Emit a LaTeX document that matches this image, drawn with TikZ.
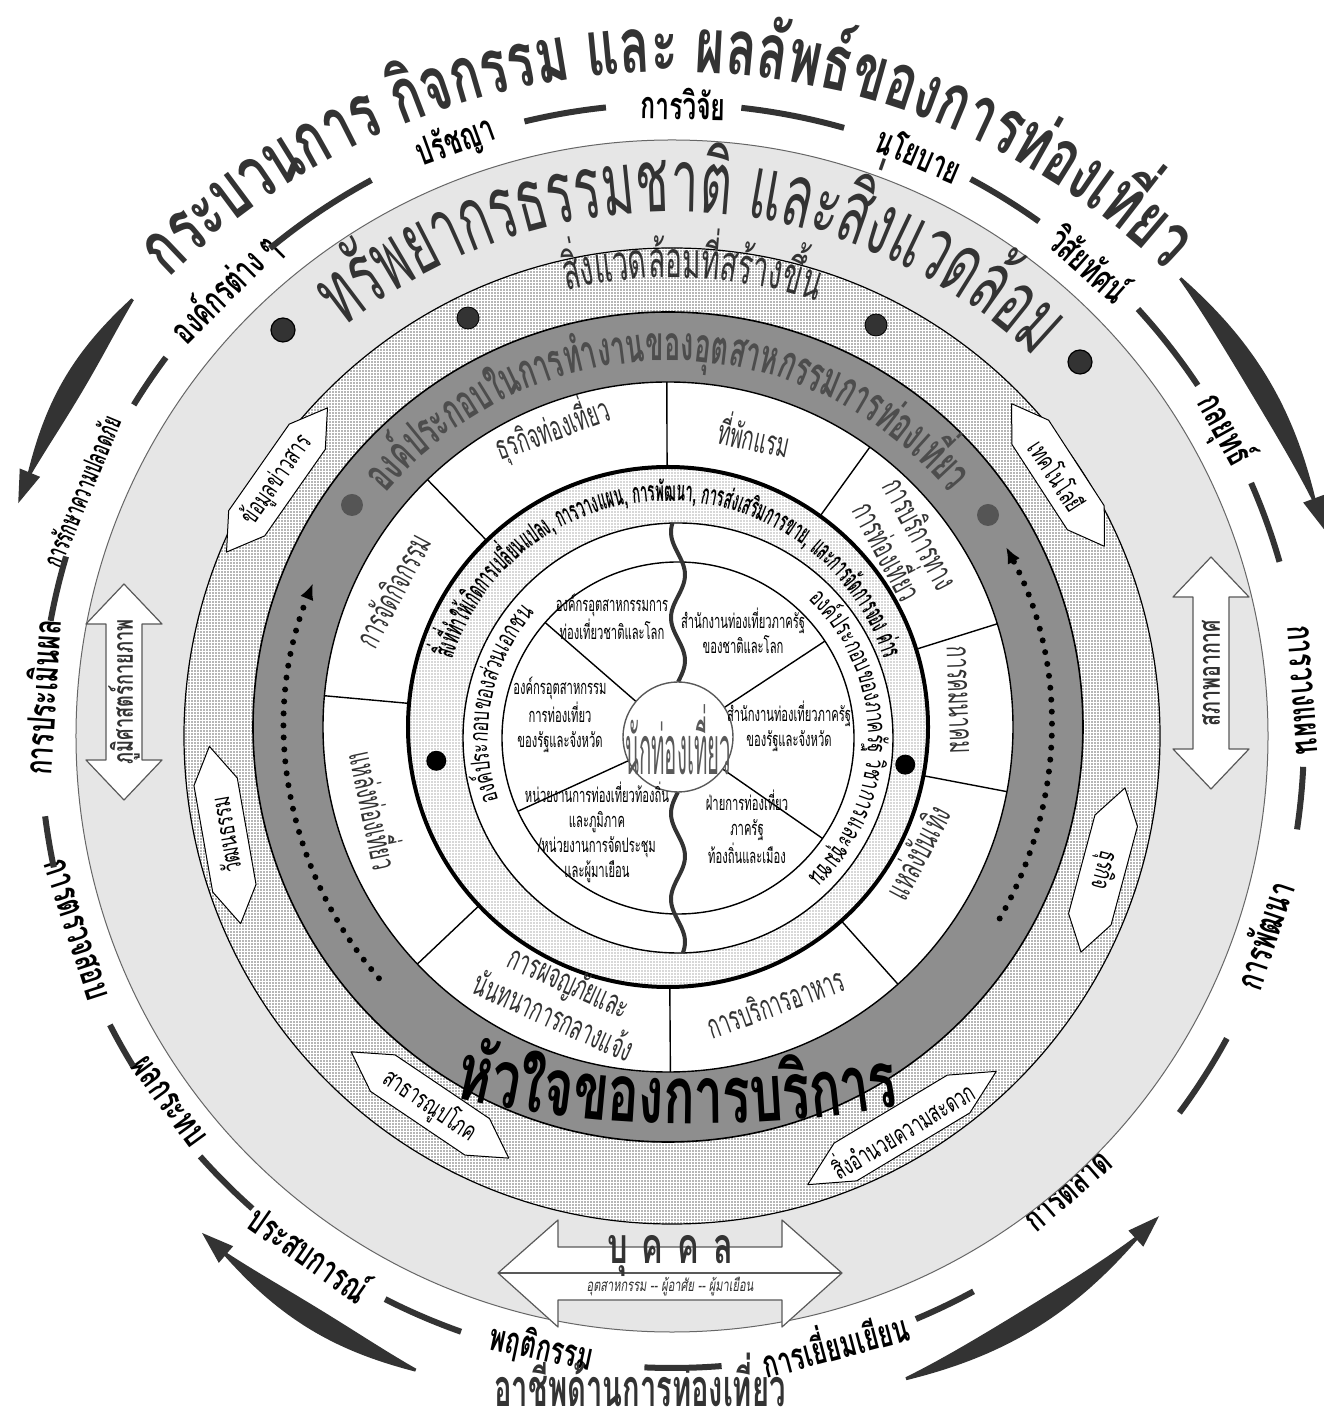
\documentclass[tikz,border=0pt]{standalone}
\usepackage{fontspec}
\newfontfamily\thaiw[Script=Thai,FakeStretch=0.65]{Loma}
\newfontfamily\thain[Script=Thai,FakeStretch=0.56]{Loma}
\newfontfamily\thaim[Script=Thai,FakeStretch=0.47]{Loma}
\newfontfamily\thaix[Script=Thai,FakeStretch=0.3]{Loma}
\usetikzlibrary{arrows.meta,decorations.text,patterns}

\definecolor{ringlight}{HTML}{E6E6E6}
\definecolor{ringdark}{HTML}{8E8E8E}
\definecolor{ink}{HTML}{333333}
\definecolor{inkmid}{HTML}{4D4D4D}
\definecolor{dotdark}{HTML}{555555}

% fine stipple for the built environment rings
\pgfdeclarepatternformonly{finedots}{\pgfqpoint{-0.5pt}{-0.5pt}}{\pgfqpoint{0.5pt}{0.5pt}}{\pgfqpoint{1.5pt}{1.5pt}}{%
  \pgfpathcircle{\pgfqpoint{0pt}{0pt}}{0.42pt}\pgfusepath{fill}}

\begin{document}
\begin{tikzpicture}[x=0.5pt, y=0.5pt, line join=round,
  word/.style={font=\thaiw\bfseries\fontsize{19}{19}\selectfont, inner sep=0pt},
  dashseg/.style={line width=3pt, color=ink},
  arrowbox/.style={draw=gray!70!black, fill=white, line width=0.6pt},
  hexbox/.style={draw=black, fill=white, line width=0.5pt},
  hextext/.style={font=\thaiw\fontsize{13}{13}\selectfont, inner sep=0pt},
  sector/.style={font=\thain\fontsize{17}{19}\selectfont, color=ink, align=center, inner sep=0pt},
  instext/.style={font=\thain\fontsize{10}{12.5}\selectfont, align=center, inner sep=0pt},
  spoke/.style={line width=0.7pt},
  dotarc/.style={line width=3pt, dash pattern=on 0pt off 6pt, line cap=round, -{Latex[length=8pt,width=7pt]}},
  midring/.style={shift={(-4,9)}},
  corering/.style={shift={(6,-2)}}
]

\fill[white] (-672,-691) rectangle (655,736);
\useasboundingbox (-672,-691) rectangle (655,736);

% Anello esterno: processi
\begin{scope}[shift={(0,-50)}]
\path[decorate, decoration={text along path, text align=center,
  text={|\thaiw\bfseries\fontsize{38.5}{38.5}\selectfont\color{ink}|{ก}{ระ}{บ}{ว}{น}{ก}{า}{ร} {กิ}{จ}{ก}{ร}{ร}{ม} {แ}{ล}{ะ} {ผ}{ล}{ลั}{พธ์}{ข}{อ}{ง}{ก}{า}{ร}{ท่}{อ}{ง}{เ}{ที่}{ย}{ว}}}]
  (152:714) arc[start angle=152, end angle=29, radius=714];
\end{scope}

\foreach \ang/\txt/\nm in {89/การวิจัย/wresearch, 110/ปรัชญา/wphilo, 67/นโยบาย/wpolicy,
    135/องค์กรต่าง ๆ/worg, 48.5/วิสัยทัศน์/wvision, 29/กลยุทธ์/wstrategy,
    176.5/การประเมินผล/weval, 4.2/การวางแผน/wplan}
  \node[word, rotate=\ang-90] (\nm) at (\ang:632) {\txt};
\foreach \ang/\rad/\txt/\nm in {-18.6/624/การพัฒนา/wdevel, -49/604/การตลาด/wmarket, -75/626/การเยี่ยมเยียน/wvisit,
    -102/626/พฤติกรรม/wbehav, -125/630/ประสบการณ์/wexper, -144/622/ผลกระทบ/wimpact, -162/626/การตรวจสอบ/wmonitor}
  \node[word, rotate=\ang+90] (\nm) at (\ang:\rad) {\txt};
\node[word, font=\thain\bfseries\fontsize{14}{14}\selectfont, rotate=67.5] (wsafety) at (157.5:640) {การรักษาความปลอดภัย};

\foreach \a/\b in {96/103.5, 74.2/83.7, 54.5/61.8, 33.7/42.5, 16/23.6, -8.5/-2.8, -36.6/-28.6,
    -67.3/-61.5, -92.5/-85.5, -117/-109.5, -138.3/-131.6, -152.8/-148.5, -172.7/-168,
    163.5/169.5, 143.2/148.4, 118.4/129.5}
  \draw[dashseg] (\a:632) arc[start angle=\a, end angle=\b, radius=632];

% Frecce a mezzaluna
\foreach \a/\b/\R in {141/158/694, 42/20/684, -70/-47/684, -112/-131/684}{
  \pgfmathsetmacro\dir{(\b-\a)/abs(\b-\a)}
  \fill[ink] plot[domain=0:1, samples=40, variable=\q] ({\a+(\b-\a)*\q}:{\R+1.5+9.5*sin(180*\q)})
    -- plot[domain=1:0, samples=40, variable=\q] ({\a+(\b-\a)*\q}:{\R-1.5-9.5*sin(180*\q)}) -- cycle;
  \fill[ink] ({\b+2.4*\dir}:\R) -- ({\b-0.3*\dir}:{\R+11}) -- ({\b-0.3*\dir}:{\R-11}) -- cycle;
}

\node[font=\thain\bfseries\fontsize{26}{26}\selectfont, color=ink, inner sep=0pt, anchor=base,
  text depth=0pt, text height=18pt] (careers) at (-32,-670) {อาชีพด้านการท่องเที่ยว};

% Risorse naturali
\filldraw[fill=ringlight, draw=gray!80!black, line width=0.5pt] (0,0) circle (596);
\path[decorate, decoration={text along path, text align=center,
  text={|\thain\fontsize{44}{44}\selectfont\color{ink}|{ท}{รั}{พ}{ย}{า}{ก}{ร}{ธ}{ร}{ร}{ม}{ช}{า}{ติ} {แ}{ล}{ะ}{สิ่}{ง}{แ}{ว}{ด}{ล้}{อ}{ม}}}]
  (152:524) arc[start angle=152, end angle=23, radius=524];
\filldraw[fill=ink, draw=black, line width=0.6pt] (-389,406) circle (12);
\filldraw[fill=ink, draw=black, line width=0.6pt] (408,374) circle (12);

% Doppie frecce
\draw[arrowbox] (-548,152) -- (-586,112) -- (-566,112) -- (-566,-24) -- (-586,-24) -- (-548,-64)
  -- (-510,-24) -- (-530,-24) -- (-530,112) -- (-510,112) -- cycle;
\node[font=\thaiw\bfseries\fontsize{14}{14}\selectfont, color=ink, rotate=90] (geo) at (-548,44) {ภูมิศาสตร์กายภาพ};
\draw[arrowbox] (539,179) -- (501,139) -- (521,139) -- (521,-13) -- (501,-13) -- (539,-53)
  -- (577,-13) -- (557,-13) -- (557,139) -- (577,139) -- cycle;
\node[font=\thaiw\bfseries\fontsize{15}{15}\selectfont, color=ink, rotate=90] (climate) at (539,63) {สภาพอากาศ};
\draw[arrowbox] (-174,-537) -- (-114,-484) -- (-114,-511) -- (110,-511) -- (110,-484) -- (170,-537)
  -- (110,-591) -- (110,-564) -- (-114,-564) -- (-114,-591) -- cycle;
\coordinate (ptipL) at (-174,-537);
\coordinate (ptipR) at (170,-537);
\draw[gray!70!black, line width=0.6pt] (ptipL) -- (ptipR);
\node[font=\thaiw\bfseries\fontsize{25}{25}\selectfont, color=ink] (people) at (-2,-520) {บุ\hspace{7pt}ค\hspace{7pt}ค\hspace{7pt}ล};
\node[font=\thaiw\itshape\fontsize{8.5}{8.5}\selectfont, color=ink] (peoplesub) at (-2,-551) {อุตสาหกรรม -- ผู้อาศัย -- ผู้มาเยือน};

% Ambiente costruito
\fill[white] (0,0) circle (488);
\filldraw[pattern=finedots, pattern color=gray!85!black, draw=black, line width=0.6pt] (0,0) circle (488);
\path[decorate, decoration={text along path, text align=center,
  text={|\thain\fontsize{25}{25}\selectfont\color{ink}|{สิ่ง}{แวด}{ล้อม}{ที่}{สร้าง}{ขึ้น}}}]
  (125:458) arc[start angle=125, end angle=50, radius=458];
\filldraw[fill=ink, draw=black] (-204,418) circle (11);
\filldraw[fill=ink, draw=black] (204,411) circle (11);

\foreach \px/\py/\rot/\len/\txt/\nm in {-395/256/55/88/ข้อมูลข่าวสาร/hinfo, -447/-99/100/90/วัฒนธรรม/hculture,
    386/261/-57/85/เทคโนโลยี/htech, 431/-134/-105/85/ธุรกิจ/hbiz,
    -242/-369/-34/95/สาธารณูปโภค/hinfra, 230/-392/31/110/สิ่งอำนวยความสะดวก/hfacil}{
  \draw[hexbox, shift={(\px,\py)}, rotate=\rot] (-\len,0) -- ({-0.6*\len},22) -- ({0.6*\len},22)
    -- (\len,0) -- ({0.6*\len},-22) -- ({-0.6*\len},-22) -- cycle;
  \node[hextext, rotate=\rot] (\nm) at (\px,\py) {\txt};
}

% Settori dell'industria
\begin{scope}[midring]
\filldraw[fill=ringdark, draw=black, line width=0.8pt] (0,0) circle (415);
\path[decorate, decoration={text along path, text align=center,
  text={|\thain\bfseries\fontsize{24}{24}\selectfont\color{inkmid}|{อง}{ค์}{ประ}{กอบ}{ใน}{การ}{ทำ}{งาน}{ของ}{อุต}{สาห}{กรรม}{การ}{ท่อง}{เที่ยว}}}]
  (150:366) arc[start angle=150, end angle=30, radius=366];
\draw[dotarc] (221:383) arc[start angle=221, end angle=158, radius=383];
\draw[dotarc] (-30:383) arc[start angle=-30, end angle=28, radius=383];
\end{scope}
\fill[dotdark] (-320,231) circle (11);
\fill[dotdark] (316,221) circle (11);

\begin{scope}[midring]
\filldraw[fill=white, draw=black, line width=0.7pt] (0,0) circle (345);
\foreach \a in {90.2,134.2,174.8,223.4,270.4,311.8,349.2,17.4,54.2}
  \draw[spoke] (\a:258) -- (\a:345);

% Fattori di cambiamento
\fill[white] (0,0) circle (260);
\filldraw[pattern=finedots, pattern color=gray!60, draw=black, line width=2pt] (0,0) circle (260);
\path[decorate, decoration={text along path, text align=center,
  text={|\thaim\bfseries\fontsize{14}{14}\selectfont\color{black}|{สิ่ง}{ที่}{ทำ}{ให้}{เกิด}{การ}{เปลี่ยน}{แปลง}, {การ}{วาง}{แผน}, {การ}{พัฒ}{นา}, {การ}{ส่ง}{เสริม}{การ}{ขาย}, {และ}{การ}{จัด}{การ}{จอง} {ค่าร}}}]
  (181:226) arc[start angle=181, end angle=-1, radius=226];
\end{scope}
\node[sector, rotate=20] (travel) at (-120,308) {ธุรกิจท่องเที่ยว};
\node[sector, rotate=-12] (lodging) at (83,302) {ที่พักแรม};
\node[sector, rotate=-62] (tservice) at (233,194) {การบริการทาง\\การท่องเที่ยว};
\node[sector, rotate=-88] (transport) at (286,36) {การคมนาคม};
\node[sector, rotate=62] (entertain) at (245,-116) {แหล่งบันเทิง};
\node[sector, rotate=20] (food) at (103,-266) {การบริการอาหาร};
\node[sector, rotate=-24] (adventure) at (-110,-262) {การผจญภัยและ\\นันทนาการกลางแจ้ง};
\node[sector, rotate=-78] (attract) at (-294,-74) {แหล่งท่องเที่ยว};
\node[sector, rotate=62] (events) at (-280,146) {การจัดกิจกรรม};
\fill[black] (186:237) circle (10);
\fill[black] (-7:235) circle (10);

\path[decorate, decoration={text along path, text align=center,
  text={|\thaiw\bfseries\fontsize{40}{40}\selectfont\color{black}|{หั}{ว}{ใ}{จ}{ข}{อ}{ง}{ก}{า}{ร}{บ}{ริ}{ก}{า}{ร}}}]
  (-230,-358) .. controls (-80,-396) and (90,-396) .. (240,-368);

\begin{scope}[corering]
\filldraw[fill=white, draw=black, line width=0.7pt] (0,0) circle (215);
\path[decorate, decoration={text along path, text align=center,
  text={|\thaiw\fontsize{13}{13}\selectfont\color{black}|{อง}{ค์}{ประ}{กอบ}{ของ}{ส่วน}{เอก}{ชน}}}]
  (215:190) arc[start angle=215, end angle=123, radius=190];
\path[decorate, decoration={text along path, text align=center,
  text={|\thaiw\fontsize{13}{13}\selectfont\color{black}|{อง}{ค์}{ประ}{กอบ}{ของ}{ภาค}{รัฐ} {วิ}{ชา}{การ}{และ}{ชุม}{ชน}}}]
  (46:190) arc[start angle=46, end angle=-46, radius=190];

% Organizzazioni
\draw[fill=white, line width=0.7pt] (0,0) circle (176);
\foreach \a in {139,204.6,33.4,-34.8}
  \draw[spoke] (\a:55) -- (\a:176);
\draw[line width=2pt, ink] plot[domain=56:215, samples=60] ({7*sin(4.2*(\x-56))},\x);
\draw[line width=2pt, ink] plot[domain=-215:-54, samples=60] ({7*sin(4.2*(\x+54))},\x);
\end{scope}

% Turista
\filldraw[fill=white, draw=gray!70!black, line width=0.7pt] (6,-1) circle (55);
\node[font=\thaix\fontsize{34}{34}\selectfont, color=gray!70!black] (tourist) at (6,-4) {นักท่องเที่ยว};

\node[instext] (natind) at (-60,119) {องค์กรอุตสาหกรรมการ\\ท่องเที่ยวชาติและโลก};
\node[instext] (stateind) at (-112,21) {องค์กรอุตสาหกรรม\\การท่องเที่ยว\\ของรัฐและจังหวัด};
\node[instext] (localind) at (-75,-96) {หน่วยงานการท่องเที่ยวท้องถิ่น\\และภูมิภาค\\/หน่วยงานการจัดประชุม\\และผู้มาเยือน};
\node[instext] (natgov) at (71,105) {สำนักงานท่องเที่ยวภาครัฐ\\ของชาติและโลก};
\node[instext] (stategov) at (117,10) {สำนักงานท่องเที่ยวภาครัฐ\\ของรัฐและจังหวัด};
\node[instext] (localgov) at (75,-91) {ฝ่ายการท่องเที่ยว\\ภาครัฐ\\ท้องถิ่นและเมือง};

\end{tikzpicture}
\end{document}
